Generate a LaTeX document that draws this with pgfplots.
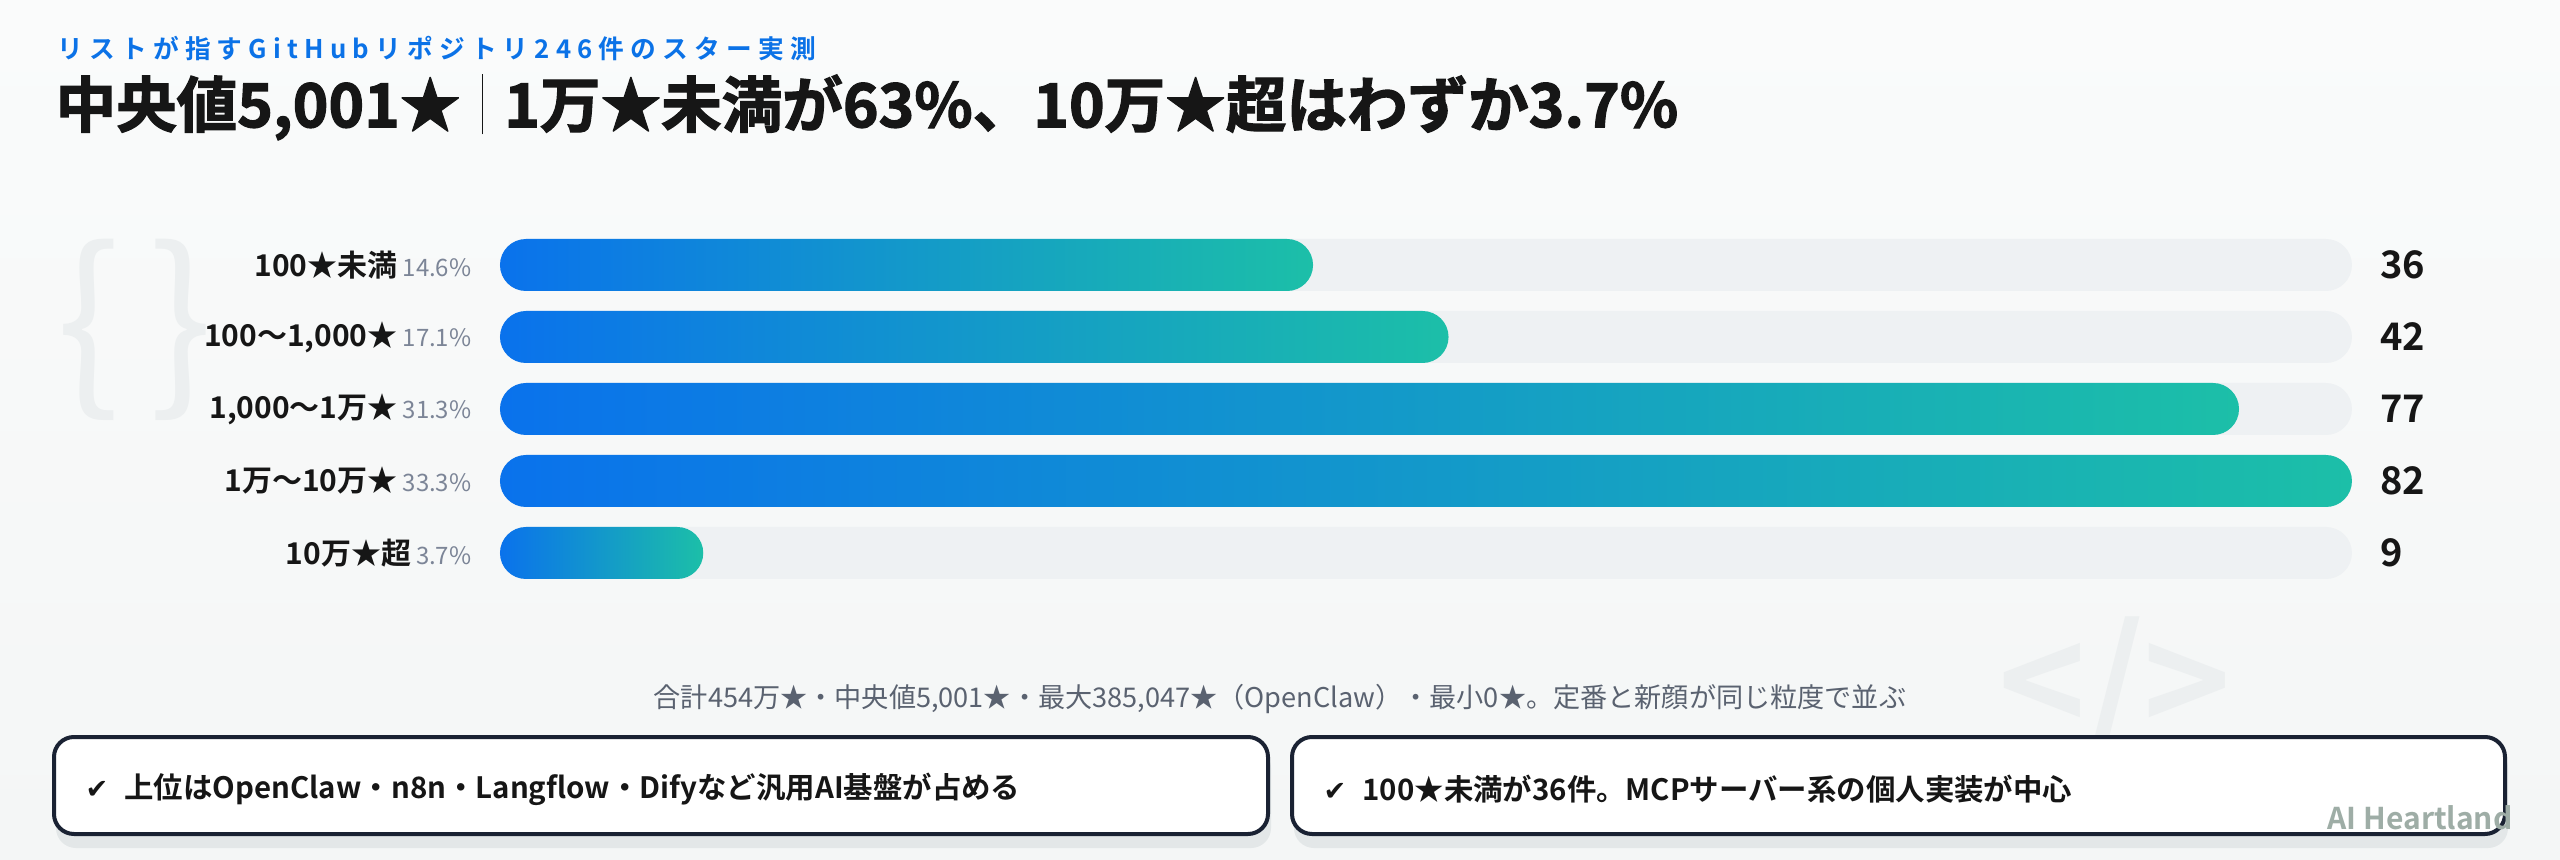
\documentclass[border=0pt]{standalone}
\usepackage{fontspec}
\setmainfont{Noto Sans CJK JP}[BoldFont={Noto Sans CJK JP Bold}]
\newfontfamily\dejavu{DejaVu Sans}[BoldFont={DejaVu Sans Bold}]
\usepackage{pgfplots}
\pgfplotsset{compat=1.18}
\definecolor{bgtop}{HTML}{FAFBFB}
\definecolor{bgc}{HTML}{F4F6F6}
\definecolor{deco}{HTML}{ECEFF0}
\definecolor{track}{HTML}{EEF1F3}
\definecolor{bstart}{HTML}{0A72EC}
\definecolor{bend}{HTML}{1CBFA8}
\definecolor{subblue}{HTML}{0B72E7}
\definecolor{pctgray}{HTML}{7C8597}
\definecolor{notegray}{HTML}{5A6270}
\definecolor{navy}{HTML}{1A2233}
\definecolor{shadow}{HTML}{E3E7E8}
\definecolor{brand}{HTML}{9EADA6}
\definecolor{ink}{HTML}{161616}
\newcommand\fs[1]{\fontsize{#1}{#1}\selectfont}
\newcommand\cat[2]{\textbf{#1}\,{\fs{8.4pt}\color{pctgray}#2}}
\begin{document}
\begin{tikzpicture}[x=0.35pt,y=-0.35pt]
\shade[top color=bgtop, bottom color=bgc] (0,0) rectangle (2560,860);
% faint decorations
\node[text=deco, font=\fs{66pt}] at (135,330) {\{\hspace{10pt}\}};
\node[text=deco, font=\fs{52pt}\bfseries] at (2115,690) {</>};
% titles
\node[anchor=west, inner sep=0pt, text=subblue, font=\fs{9pt}\bfseries\addfontfeatures{LetterSpace=24}] at (57,49) {リストが指すGitHubリポジトリ246件のスター実測};
\node[anchor=west, inner sep=0pt, text=ink, font=\fs{21.2pt}\bfseries\addfontfeatures{FakeBold=2}] at (55,107) {中央値5,001★\hspace{0.35em}{\color{ink}\rule[-0.12em]{0.5pt}{1.0em}}\hspace{0.35em}1万★未満が63\%、10万★超はわずか3.7\%};
\begin{axis}[at={(175pt,-80.15pt)}, anchor=north west, width=648.2pt, height=126pt, scale only axis,
  xmin=0, xmax=82, ymin=-0.5, ymax=4.5, y dir=reverse,
  axis line style={draw=none}, xtick=\empty, ytick={0,1,2,3,4},
  yticklabels={\cat{100★未満}{14.6\%},\cat{100〜1,000★}{17.1\%},\cat{1,000〜1万★}{31.3\%},\cat{1万〜10万★}{33.3\%},\cat{10万★超}{3.7\%}},
  yticklabel style={anchor=east, inner sep=0pt, xshift=-9.8pt, font=\fs{10.5pt}, text=ink},
  major tick length=0pt, xbar, bar width=18.2pt, bar shift=0pt, clip=false,
  /pgf/number format/assume math mode=true]
\addplot[draw=none, fill=track, rounded corners=9.1pt, point meta=explicit, nodes near coords,
  every node near coord/.append style={anchor=west, xshift=9.8pt, inner sep=0pt, font=\fs{13.3pt}\bfseries, text=ink}]
  coordinates {(82,0) [36] (82,1) [42] (82,2) [77] (82,3) [82] (82,4) [9]};
\addplot[draw=none, left color=bstart, right color=bend, rounded corners=9.1pt] coordinates {(36,0)};
\addplot[draw=none, left color=bstart, right color=bend, rounded corners=9.1pt] coordinates {(42,1)};
\addplot[draw=none, left color=bstart, right color=bend, rounded corners=9.1pt] coordinates {(77,2)};
\addplot[draw=none, left color=bstart, right color=bend, rounded corners=9.1pt] coordinates {(82,3)};
\addplot[draw=none, left color=bstart, right color=bend, rounded corners=9.1pt] coordinates {(9,4)};
\end{axis}
% footnote
\node[text=notegray, inner sep=0pt, font=\fs{9.5pt}] at (1280,699) {合計454万★・中央値5,001★・最大385,047★（OpenClaw）・最小0★。定番と新顔が同じ粒度で並ぶ};
% boxes
\fill[shadow, rounded corners=7pt] (56,748) rectangle (1271,848);
\fill[shadow, rounded corners=7pt] (1294,748) rectangle (2508,848);
\draw[navy, line width=1.4pt, fill=white, rounded corners=7pt] (54,737) rectangle (1268,834);
\draw[navy, line width=1.4pt, fill=white, rounded corners=7pt] (1292,737) rectangle (2505,834);
\node[anchor=west, inner sep=0pt, text=ink, font=\fs{10.3pt}\bfseries] at (85,789) {{\dejavu\fs{9.5pt}✔}\hspace{0.55em}上位はOpenClaw・n8n・Langflow・Difyなど汎用AI基盤が占める};
\node[anchor=west, inner sep=0pt, text=ink, font=\fs{10.3pt}\bfseries] at (1323,789) {{\dejavu\fs{9.5pt}✔}\hspace{0.55em}100★未満が36件。MCPサーバー系の個人実装が中心};
\node[anchor=east, inner sep=0pt, text=brand, font=\fs{10.5pt}\bfseries] at (2513,818) {AI Heartland};
\end{tikzpicture}
\end{document}
